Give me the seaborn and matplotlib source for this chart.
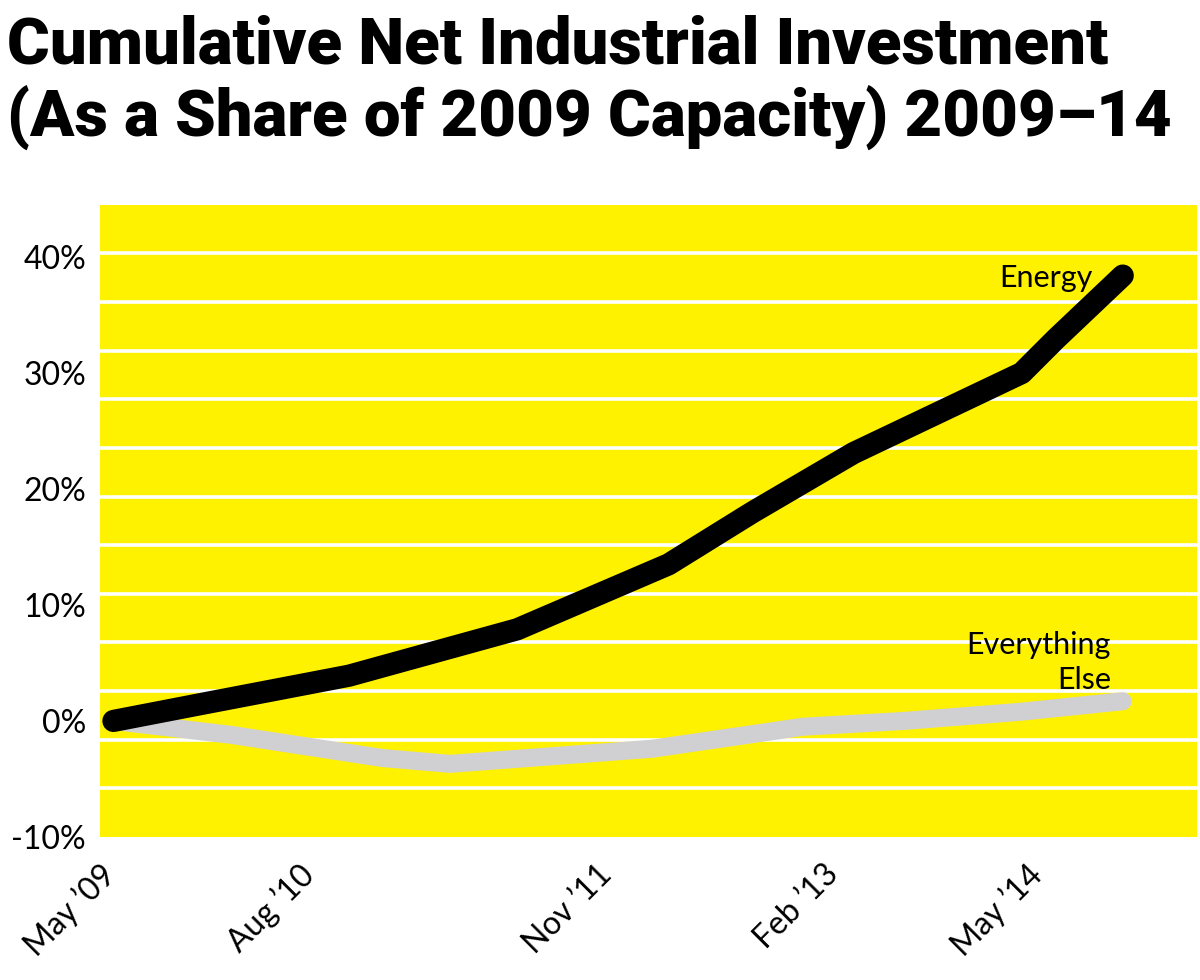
import numpy as np
import pandas as pd
import seaborn as sns
import matplotlib.pyplot as plt

# Data (months since May 2009, cumulative % of 2009 capacity)
energy_months = [0, 5, 14, 24, 33, 38, 44, 54, 56, 60]
energy_values = [0.0, 1.4, 3.9, 7.9, 13.5, 18.0, 23.1, 30.0, 32.9, 38.4]

other_months = [0, 7, 16, 20, 32, 41, 47, 54, 60]
other_values = [0.0, -1.2, -3.2, -3.7, -2.4, -0.5, 0.0, 0.8, 1.7]

x_tick_labels = ["May \u201909", "Aug \u201910", "Nov \u201911", "Feb \u201913", "May \u201914"]
x_tick_pos = [-0.8, 11.0, 28.7, 42.2, 54.3]
y_ticks = [-10, 0, 10, 20, 30, 40]

title = "Cumulative Net Industrial Investment\n(As a Share of 2009 Capacity) 2009\u201314"

YELLOW = "#FFF200"
GREY = "#D0D0D2"

df_energy = pd.DataFrame({"month": energy_months, "value": energy_values})
df_other = pd.DataFrame({"month": other_months, "value": other_values})

sns.set_style("white", {"axes.facecolor": YELLOW})
plt.rcParams["font.family"] = ["Lato", "DejaVu Sans"]
plt.rcParams["text.color"] = "black"
plt.rcParams["xtick.color"] = "black"
plt.rcParams["ytick.color"] = "black"

fig = plt.figure(figsize=(12, 9.8), dpi=100)
ax = fig.add_axes([0.0833, 0.146, 0.914, 0.645])

# Draw lines
sns.lineplot(data=df_other, x="month", y="value", color=GREY, linewidth=13,
             solid_capstyle="round", ax=ax)
sns.lineplot(data=df_energy, x="month", y="value", color="black", linewidth=16,
             solid_capstyle="round", ax=ax)

ylo, yhi = -10, 44.5
ax.set_xlim(-0.24, 64.4)
ax.set_ylim(ylo, yhi)

# white horizontal bands (decorative, 13 equal strips)
ax.set_yticks(np.linspace(ylo, yhi, 14)[1:-1], minor=True)
ax.grid(which="minor", axis="y", color="white", linewidth=2.6)
ax.set_axisbelow(True)

ax.set_yticks(y_ticks)
ax.set_yticklabels([f"{v}%" for v in y_ticks], fontsize=23)
ax.set_xticks(x_tick_pos)
ax.set_xticklabels(x_tick_labels, fontsize=23, rotation=45, ha="right",
                   rotation_mode="anchor")
ax.tick_params(axis="both", length=0)
ax.tick_params(axis="y", pad=10)
ax.tick_params(axis="x", pad=16)
ax.set_xlabel("")
ax.set_ylabel("")
for s in ax.spines.values():
    s.set_visible(False)

# Labels on lines
ax.text(58.2, 38.2, "Energy", fontsize=22, ha="right", va="center")
ax.text(59.3, 5.0, "Everything\nElse", fontsize=22, ha="right", va="center",
        linespacing=1.3)

# Title
fig.text(0.006, 0.985, title, fontsize=47, fontweight="black", va="top",
         ha="left", linespacing=1.16, color="black",
         family=["Roboto", "DejaVu Sans"])

fig.savefig("out.png", dpi=100)
